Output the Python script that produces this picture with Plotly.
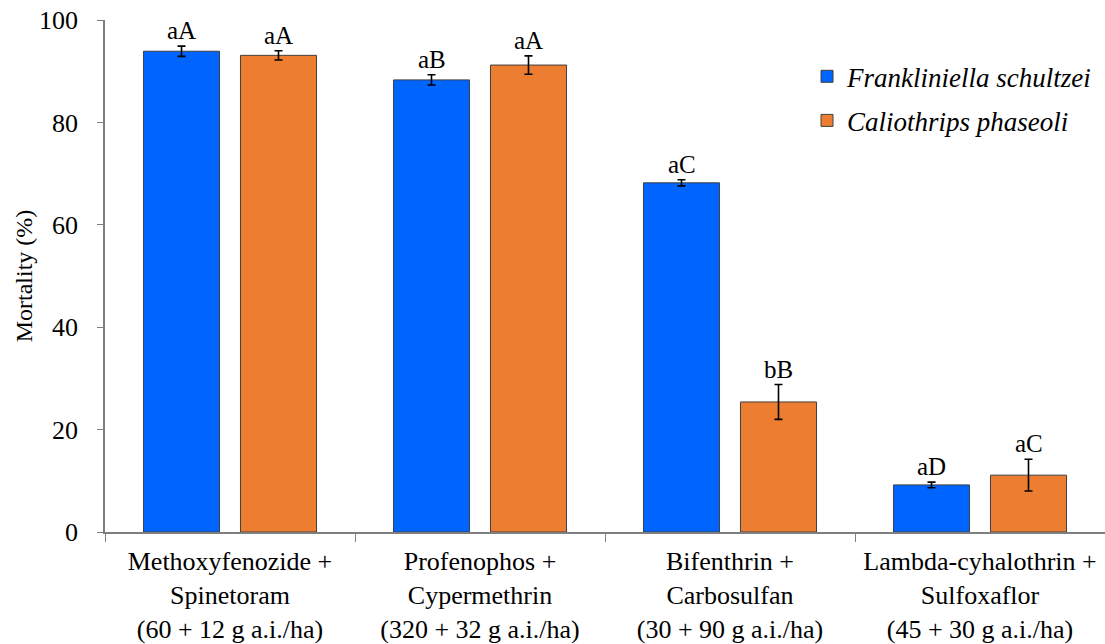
import plotly.graph_objects as go

categories = [
    "Methoxyfenozide +<br>Spinetoram<br>(60 + 12 g a.i./ha)",
    "Profenophos +<br>Cypermethrin<br>(320 + 32 g a.i./ha)",
    "Bifenthrin +<br>Carbosulfan<br>(30 + 90 g a.i./ha)",
    "Lambda-cyhalothrin +<br>Sulfoxaflor<br>(45 + 30 g a.i./ha)",
]
fs_vals = [93.9, 88.3, 68.2, 9.2]
fs_err = [1.0, 1.0, 0.6, 0.55]
fs_letters = ["aA", "aB", "aC", "aD"]
cp_vals = [93.1, 91.2, 25.4, 11.1]
cp_err = [0.9, 1.8, 3.4, 3.1]
cp_letters = ["aA", "aA", "bB", "aC"]
y_ticks = [0, 20, 40, 60, 80, 100]

FONT = "Liberation Serif, Times New Roman, serif"
BLUE = "#0064FF"
ORANGE = "#ED7D31"
BARGAP = 0.224
GROUPGAP = 0.216

fig = go.Figure()
fig.add_trace(go.Bar(
    x=categories, y=fs_vals, name="<i>Frankliniella schultzei</i>",
    marker=dict(color=BLUE, line=dict(color="#404040", width=1)),
    error_y=dict(type="data", array=fs_err, color="black", thickness=1.6, width=4),
    legendgroup="a",
))
fig.add_trace(go.Bar(
    x=categories, y=cp_vals, name="<i>Caliothrips phaseoli</i>",
    marker=dict(color=ORANGE, line=dict(color="#404040", width=1)),
    error_y=dict(type="data", array=cp_err, color="black", thickness=1.6, width=4),
    legendgroup="b",
))

off = (1 - BARGAP) / 4
annotations = []
for i in range(len(categories)):
    for sign, vals, errs, lets in ((-1, fs_vals, fs_err, fs_letters), (1, cp_vals, cp_err, cp_letters)):
        annotations.append(dict(
            x=i + sign * off, y=vals[i] + errs[i], xref="x", yref="y",
            text=lets[i], showarrow=False, yanchor="bottom", yshift=0,
            font=dict(family=FONT, size=25, color="black"),
        ))

fig.update_layout(
    width=1105, height=644,
    margin=dict(l=105, r=0, t=20, b=112, autoexpand=False),
    paper_bgcolor="white", plot_bgcolor="white",
    barmode="group", bargap=BARGAP, bargroupgap=GROUPGAP,
    font=dict(family=FONT, size=24, color="black"),
    showlegend=True,
    legend=dict(x=0.702, y=0.937, xanchor="left", yanchor="top",
                font=dict(family=FONT, size=27, color="black"),
                traceorder="grouped", tracegroupgap=6,
                bgcolor="rgba(0,0,0,0)"),
    annotations=annotations,
    xaxis=dict(type="category", showline=True, linecolor="#7f7f7f", linewidth=1.5,
               ticks="outside", tickson="boundaries", ticklen=8, tickcolor="#7f7f7f",
               tickangle=0, automargin=False, ticklabelstandoff=5,
               tickfont=dict(family=FONT, size=26, color="black"), showgrid=False),
    yaxis=dict(range=[0, 100], tickvals=y_ticks, showline=True, linecolor="#7f7f7f",
               linewidth=1.5, ticks="outside", ticklen=6, tickcolor="#7f7f7f",
               tickfont=dict(family=FONT, size=26, color="black"), showgrid=False,
               zeroline=False, ticklabeloverflow="allow", ticklabelstandoff=14,
               automargin=False,
               title=dict(text="Mortality (%)", font=dict(family=FONT, size=24, color="black"),
                          standoff=0)),
)

fig.write_html(
    "out.html",
    config={"displayModeBar": False},
    post_script="document.body.style.margin='0';document.body.style.overflow='hidden';",
)
